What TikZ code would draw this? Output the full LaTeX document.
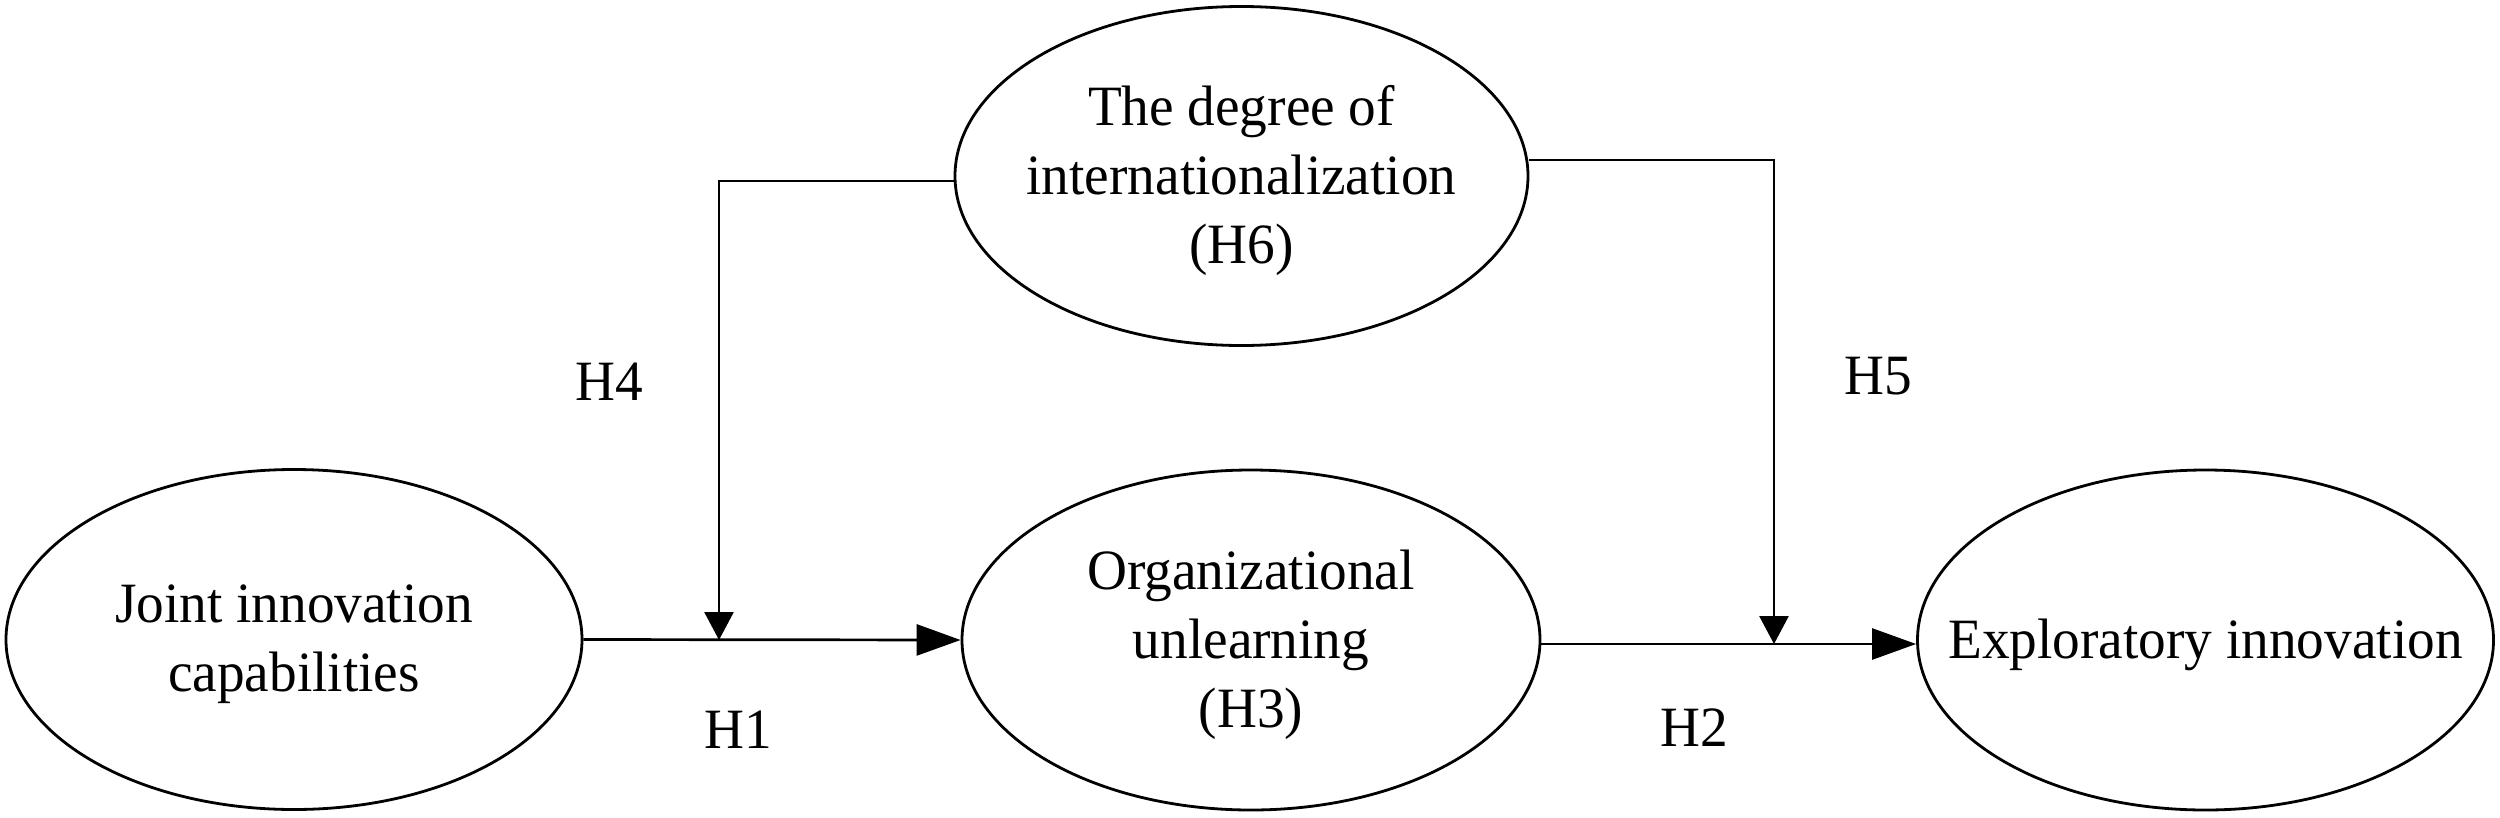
\documentclass[tikz,border=0pt]{standalone}
\usepackage{fontspec}
\setmainfont{Liberation Serif}[FakeStretch=0.97]
\usetikzlibrary{shapes.geometric,arrows.meta}
\begin{document}
\begin{tikzpicture}[x=1pt,y=-1pt,
  txtfont/.style={font=\fontsize{57}{69}\selectfont},
  ell/.style={ellipse, draw, line width=2.8pt, inner xsep=-250pt, inner ysep=0pt,
    minimum width=576pt, minimum height=340pt, align=center, txtfont, text depth=10pt},
  lbl/.style={anchor=base, inner sep=0pt, txtfont},
  conn/.style={line width=2.7pt, line join=miter},
  harrow/.style={conn, -{Triangle[length=44pt,width=31pt]}},
  varrow/.style={conn, -{Triangle[length=28pt,width=29pt]}}]
\useasboundingbox (0,0) rectangle (2500,817);
% nodes
\node[ell, text height=114.4pt] (jic) at (294,639.5) {Joint innovation\\capabilities};
\node[ell, minimum width=578pt, text height=184pt] (ou) at (1251,640) {Organizational\\unlearning\\(H3)};
\node[ell, text height=46pt] (ei) at (2205.5,640) {Exploratory innovation};
\node[ell, minimum width=573pt, minimum height=339pt, text height=184pt] (doi) at (1241.5,176) {The degree of\\internationalization\\(H6)};
% labels
\node[lbl] (h4) at (609.5,400) {H4};
\node[lbl] (h5) at (1878.5,394) {H5};
\node[lbl] (h1) at (738,748) {H1};
\node[lbl] (h2) at (1694,746) {H2};
% junctions on the main paths
\coordinate (h4j) at (719,640);
\coordinate (h5j) at (1774,644);
% connectors
\draw[harrow] (jic.east) -- (ou.west);
\draw[harrow] ([yshift=-4pt]ou.east) -- ([yshift=-4pt]ei.west);
\draw[varrow] ([yshift=-5pt]doi.west) -| (h4j);
\draw[varrow] ([yshift=16pt]doi.east) -| (h5j);
\end{tikzpicture}
\end{document}
